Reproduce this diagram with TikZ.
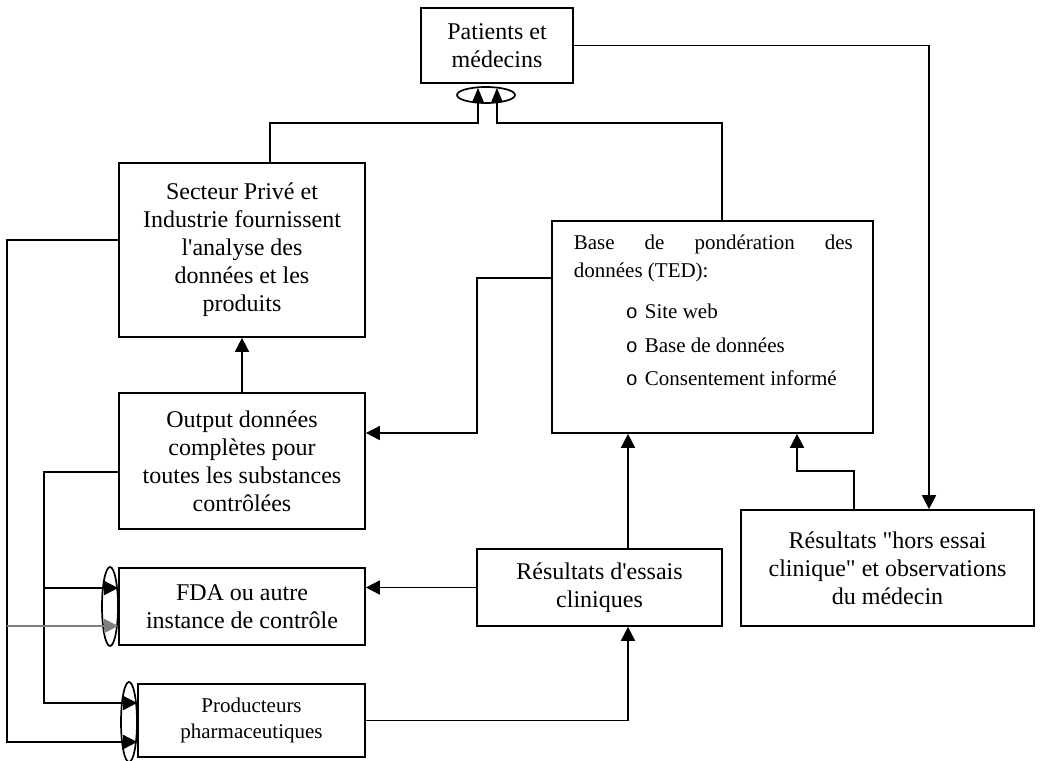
\documentclass[tikz,border=0pt]{standalone}
\usepackage{fontspec}
\setmainfont{Liberation Serif}[Ligatures=TeXOff]
\newfontfamily\bulletfont{Liberation Mono}
\usetikzlibrary{arrows.meta,shapes.geometric}

\begin{document}
\begin{tikzpicture}[x=1pt,y=-1pt,line width=1.7pt,
                    >={Triangle[length=14pt,width=14pt]},
                    box/.style={draw,align=center,inner sep=0pt,
                                font=\fontsize{24}{28}\selectfont},
                    ring/.style={draw,ellipse,inner sep=0pt}]
  \useasboundingbox (0,0) rectangle (1040,760);

  \node[box,minimum width=152,minimum height=75]   (P) at (497,45.5)   {Patients et\\médecins};
  \node[box,minimum width=246,minimum height=174]  (S) at (242,250)    {Secteur Privé et\\Industrie fournissent\\l'analyse des\\données et les\\produits};
  \node[box,minimum width=321,minimum height=212]  (T) at (712.5,327)  {};
  \node[box,minimum width=246,minimum height=136]  (O) at (242,461)    {Output données\\complètes pour\\toutes les substances\\contrôlées};
  \node[box,minimum width=246,minimum height=77]   (F) at (242,606.5)  {FDA ou autre\\instance de contrôle};
  \node[box,minimum width=227,minimum height=73,
        font=\fontsize{21}{26}\selectfont]          (D) at (251.5,720.5) {Producteurs\\pharmaceutiques};
  \node[box,minimum width=245,minimum height=77]   (R) at (599.5,587.5) {Résultats d'essais\\cliniques};
  \node[box,minimum width=293,minimum height=116]  (H) at (887.5,568)  {Résultats "hors essai\\clinique" et observations\\du médecin};

  \node[anchor=north west,inner sep=0pt,align=left,
        font=\fontsize{21}{28}\selectfont]          (Ttxt) at (573,234)
    {\makebox[279pt][s]{Base de pondération des}\\
     données (TED):\\[13pt]%
     \hspace*{52pt}\makebox[19pt][l]{\bulletfont\fontsize{20}{20}\selectfont o}Site web\\[6pt]%
     \hspace*{52pt}\makebox[19pt][l]{\bulletfont\fontsize{20}{20}\selectfont o}Base de données\\[5pt]%
     \hspace*{52pt}\makebox[19pt][l]{\bulletfont\fontsize{20}{20}\selectfont o}Consentement informé};

  \node[ring,minimum width=58,minimum height=16]   (E1) at (486,95)    {};
  \node[ring,minimum width=16,minimum height=79]   (E2) at (110,606.5) {};
  \node[ring,minimum width=16,minimum height=80]   (E3) at (129,722)   {};

  \coordinate (busS) at (7,0);
  \coordinate (busO) at (44,0);
  \coordinate (Sa) at ([yshift=10pt]S.west);
  \coordinate (Oa) at ([yshift=-11pt]O.west);
  \coordinate (Rt) at ([xshift=28.5pt]R.north);
  \coordinate (Rb) at ([xshift=28.5pt]R.south);
  \coordinate (Fa) at ([yshift=18.5pt]F.west);
  \coordinate (Fb) at ([yshift=-19.5pt]F.west);
  \coordinate (Da) at ([yshift=17.5pt]D.west);
  \coordinate (Db) at ([yshift=-21.5pt]D.west);

  % towards patients
  \draw[-{Triangle[length=14pt,width=11pt]},shorten >=4pt]
        ([xshift=28pt]S.north) -- ++(0,-39) -| ([xshift=-19pt]P.south);
  \draw[-{Triangle[length=14pt,width=11pt]},shorten >=4pt]
        ([xshift=9.5pt]T.north) -- ++(0,-97) -| (P.south);
  \draw[->] (P.east) -| ([xshift=41.5pt]H.north);
  \draw[->] ([xshift=-33.5pt]H.north) -- ++(0,-38) -| ([xshift=84.5pt]T.south);
  \draw[->] ([yshift=49pt]T.west) -- ++(-74,0) |- ([yshift=28pt]O.east);

  \path[->] (O)      edge (S)
            (Rt)     edge (Rt |- T.south)
            (R.west) edge (R.west -| F.east);
  \draw[->] (D.east) -| (Rb);

  \draw[->] (Sa) -- (busS |- Sa) |- (Db);
  \draw[->] (Oa) -- (busO |- Oa) |- (Da);
  \draw[->] (busO |- Fa) -- (Fa);
  \draw[->,gray] (busS |- Fb) -- (Fb);
\end{tikzpicture}
\end{document}
